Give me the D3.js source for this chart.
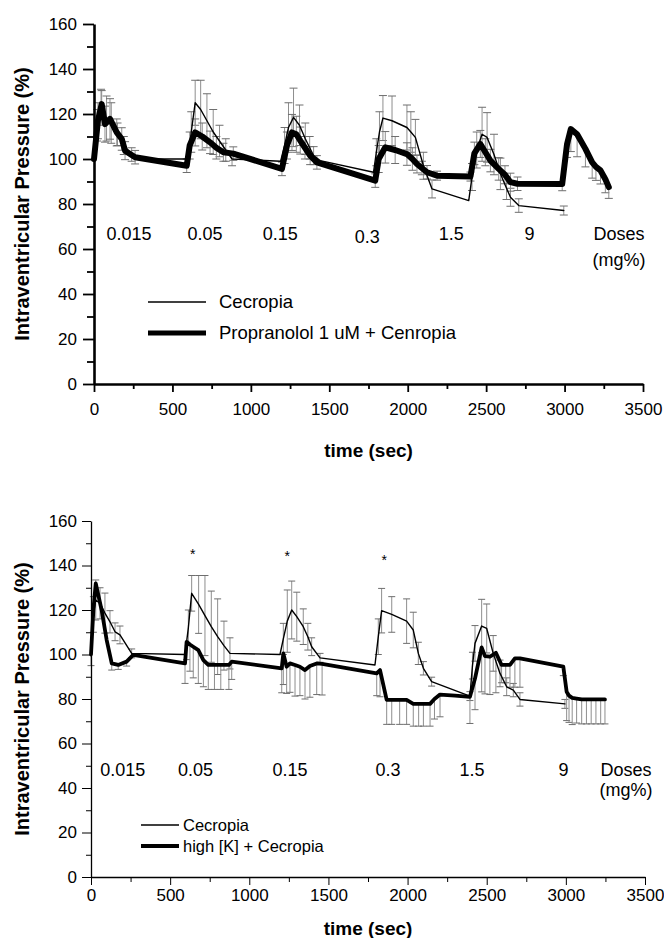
<!DOCTYPE html>
<html>
<head>
<meta charset="utf-8">
<script src="https://cdn.jsdelivr.net/npm/d3@7"></script>
<style>
  body { margin: 0; background: #fff; }
  svg { font-family: "Liberation Sans", Arial, Helvetica, sans-serif; }
</style>
</head>
<body>
<svg></svg>
<script>
// ---- data (time in sec, pressure in %) ----

// top panel: Cecropia
var topCecT = [0, 20, 45, 80, 110, 150, 190, 240, 300,
    600, 620, 645, 680, 720, 760, 800, 840, 880,
    1190, 1215, 1240, 1272, 1310, 1347, 1375, 1400, 1442,
    1782, 1800, 1820, 1842, 1900, 1995, 2020, 2049, 2100, 2155,
    2389, 2410, 2440, 2474, 2506, 2550, 2591, 2630, 2655, 2708, 2995]
var topCecV = [100, 115, 123, 118, 116, 111, 106, 102, 100,
    100, 112, 125, 122, 117, 112, 108, 104, 100,
    99, 106, 114, 118.5, 115, 109, 105, 101.5, 99.3,
    94.1, 103, 112, 118.2, 117, 114, 112, 109.6, 97, 86.7,
    81.5, 92, 104, 111, 109.6, 102, 93.4, 87, 83, 79.3, 77.1]
var topCecE = [0, 7, 8, 10, 9, 5, 4, 3, 0,
    0, 9, 10, 13, 12, 10, 7, 5, 3,
    0, 8, 11, 13, 9, 7, 5, 4, 0,
    0, 6, 9, 10, 11, 10, 9, 8, 6, 4,
    0, 6, 8, 12, 11, 9, 7, 5, 4, 3, 2]

// top panel: Propranolol 1 uM + Cecropia
var topProT = [0, 25, 49, 70, 102, 145, 177, 198, 262,
    591, 610, 645, 690, 740, 780, 825, 888,
    1198, 1230, 1262, 1290, 1315, 1345, 1378, 1421,
    1793, 1815, 1857, 1920, 1995, 2030, 2059, 2090, 2123, 2187,
    2400, 2425, 2463, 2495, 2527, 2580, 2620, 2655, 2700,
    2985, 3016, 3040, 3080, 3133, 3176, 3200, 3229, 3260, 3282]
var topProV = [100, 117, 124.4, 115.5, 117.8, 111.8, 108.9, 103.7, 100.8,
    97, 106, 111.8, 110, 107.4, 105, 103, 102.4,
    95.6, 106, 111.8, 111, 108.2, 105, 101.5, 98.5,
    90.4, 100, 105.2, 104, 102.2, 100, 97.8, 96, 94.1, 92.6,
    92.2, 102.5, 106.7, 103, 99.3, 95.6, 93, 89.7, 89,
    88.9, 106.7, 113.3, 111, 104.5, 98.5, 96.5, 94.9, 91, 87.5]
var topProUp = [0, 8, 6, 8, 9, 6, 5, 4, 3,
    3, 6, 6, 6, 5, 5, 4, 3,
    3, 6, 8, 8, 6, 5, 4, 3,
    3, 6, 7, 6, 5, 5, 4, 3, 3, 2,
    2, 5, 6, 6, 5, 5, 4, 4, 3,
    0, 0, 0, 0, 0, 0, 0, 0, 0, 0]
var topProDn = [0, 8, 6, 8, 9, 6, 5, 4, 3,
    3, 6, 6, 6, 5, 5, 4, 3,
    3, 6, 8, 8, 6, 5, 4, 3,
    3, 6, 7, 6, 5, 5, 4, 3, 3, 2,
    2, 5, 6, 6, 5, 5, 4, 4, 3,
    3, 6, 10, 10, 8, 7, 6, 6, 6, 5]

// bottom panel: Cecropia
var botCecT = [0, 15, 30, 57, 88, 120, 152, 183, 257,
    594, 615, 636, 680, 720, 760, 800, 840, 878,
    1194, 1215, 1240, 1268, 1300, 1341, 1370, 1394, 1447,
    1794, 1815, 1836, 1900, 1994, 2036, 2068, 2100, 2152,
    2394, 2410, 2426, 2468, 2500, 2541, 2584, 2626, 2668, 2710, 2994]
var botCecV = [100, 118, 124.5, 123, 118.6, 114.7, 110.2, 108.8, 100.5,
    100, 112, 127.5, 122.5, 117.5, 112.5, 108, 104, 100.5,
    100, 107, 115, 120, 117, 112.5, 108, 103.5, 98.5,
    95.3, 108, 119.7, 118, 115, 111, 100.5, 93.8, 87.8,
    81.3, 95, 105, 112.8, 111.7, 100.5, 91.5, 85.5, 84, 79.8, 77.8]
var botCecE = [0, 8, 9, 7, 9, 5, 4, 4, 2,
    0, 8, 8, 13, 18, 16, 17, 11, 7,
    0, 7, 14, 13, 11, 8, 6, 4, 2,
    0, 8, 10, 8, 10, 8, 5, 3, 2,
    2, 6, 8, 12, 11, 8, 6, 4, 3, 3, 2]

// bottom panel: high [K] + Cecropia (error bars drawn downward only)
var botHkT = [0, 15, 30, 67, 99, 131, 172, 225, 267,
    594, 604, 625, 646, 678, 710, 741, 780, 820, 871, 889,
    1205, 1215, 1236, 1257, 1289, 1320, 1352, 1383, 1426, 1460,
    1805, 1826, 1868, 1900, 1950, 1994, 2036, 2070, 2100, 2142, 2170, 2205, 2300, 2394,
    2426, 2468, 2489, 2520, 2558, 2594, 2620, 2647, 2678, 2710,
    2984, 3005, 3020, 3040, 3068, 3100, 3130, 3160, 3190, 3220, 3247]
var botHkV = [100, 120, 132, 120, 106.5, 96, 95.3, 96.8, 99.8,
    96, 105.7, 104.5, 103.5, 102, 97.5, 95.3, 95.3, 95.3, 95.3, 96.8,
    93.8, 100.5, 94.5, 96, 95.3, 94.5, 93, 94.8, 96, 95.8,
    91.5, 93, 79.6, 79.6, 79.6, 79.6, 77.8, 77.8, 77.8, 77.8, 80, 82, 81.5, 81,
    89.2, 103.2, 99.3, 99, 100.8, 95.3, 95.3, 95.3, 98.3, 98.3,
    94.5, 83.3, 81.5, 80.5, 80.2, 79.8, 79.8, 79.8, 79.8, 79.8, 79.8]
var botHkDn = [5, 0, 0, 0, 0, 3, 2, 2, 0,
    9, 8, 12, 14, 15, 12, 11, 11, 11, 11, 8,
    11, 14, 12, 13, 14, 13, 13, 14, 14, 14,
    10, 12, 11, 11, 11, 11, 10, 10, 10, 10, 9, 10, 0, 12,
    14, 20, 17, 17, 18, 8, 8, 10, 13, 13,
    4, 13, 12, 12, 11, 11, 11, 11, 11, 11, 11]

// labels
var doseLabels = ["0.015", "0.05", "0.15", "0.3", "1.5", "9"]
var topDoseAt = [223, 708, 1187, 1742, 2278, 2776]
var botDoseAt = [200, 660, 1257, 1876, 2407, 2985]
var starAt = [642, 1240, 1853]
var starV = [145.7, 144.7, 143.2]
var xTicks = [0, 500, 1000, 1500, 2000, 2500, 3000, 3500]
var xMinor = [250, 750, 1250, 1750, 2250, 2750, 3250]
var yTicks = [0, 20, 40, 60, 80, 100, 120, 140, 160]
var yMinor = [10, 30, 50, 70, 90, 110, 130, 150]

var width = 664,
    height = 938

var svg = d3.select("svg")
    .attr("width", width)
    .attr("height", height)

function drawPanel(p) {
    var x = d3.scaleLinear().domain([0, 3500]).range(p.xRange)
    var y = d3.scaleLinear().domain([0, 160]).range(p.yRange)
    var g = svg.append("g")

    // error bars first, so the lines sit on top
    p.series.forEach(function(s) {
        var bars = []
        s.t.forEach(function(t, i) {
            var up = s.up ? s.up[i] : 0,
                dn = s.dn ? s.dn[i] : 0
            if (up > 0 || dn > 0) bars.push({t: t, v: s.v[i], up: up, dn: dn})
        })
        var eb = g.append("g").selectAll("g")
            .data(bars)
            .enter().append("g")
        eb.append("line")
            .attr("x1", function(d) { return x(d.t) })
            .attr("x2", function(d) { return x(d.t) })
            .attr("y1", function(d) { return y(d.v + d.up) })
            .attr("y2", function(d) { return y(d.v - d.dn) })
            .style("stroke", "#8e8e8e")
            .style("stroke-width", 1)
        eb.filter(function(d) { return d.up > 0 }).append("line")
            .attr("x1", function(d) { return x(d.t) - p.cap })
            .attr("x2", function(d) { return x(d.t) + p.cap })
            .attr("y1", function(d) { return y(d.v + d.up) })
            .attr("y2", function(d) { return y(d.v + d.up) })
            .style("stroke", "#6e6e6e")
            .style("stroke-width", 1)
        eb.filter(function(d) { return d.dn > 0 }).append("line")
            .attr("x1", function(d) { return x(d.t) - p.cap })
            .attr("x2", function(d) { return x(d.t) + p.cap })
            .attr("y1", function(d) { return y(d.v - d.dn) })
            .attr("y2", function(d) { return y(d.v - d.dn) })
            .style("stroke", "#6e6e6e")
            .style("stroke-width", 1)
    })

    // the two curves
    p.series.forEach(function(s) {
        var line = d3.line()
            .x(function(i) { return x(s.t[i]) })
            .y(function(i) { return y(s.v[i]) })
        g.append("path")
            .attr("d", line(d3.range(s.t.length)))
            .style("fill", "none")
            .style("stroke", "#000")
            .style("stroke-width", s.w)
            .style("stroke-linejoin", "round")
            .style("stroke-linecap", "round")
    })

    // axes
    var yAxis = g.append("g")
        .attr("transform", "translate(" + x(0) + ",0)")
        .call(d3.axisLeft(y).tickValues(yTicks).tickSize(p.yMajor)
            .tickSizeOuter(0).tickPadding(p.yPad).tickFormat(d3.format("d")))
    var yMin = g.append("g")
        .attr("transform", "translate(" + x(0) + ",0)")
        .call(d3.axisLeft(y).tickValues(yMinor).tickSize(p.yMinorLen)
            .tickSizeOuter(0).tickFormat(""))
    var xAxis = g.append("g")
        .attr("transform", "translate(0," + y(0) + ")")
        .call(d3.axisBottom(x).tickValues(xTicks).tickSize(p.xMajor)
            .tickSizeOuter(0).tickPadding(p.xPad).tickFormat(d3.format("d")))
    var xMin = g.append("g")
        .attr("transform", "translate(0," + y(0) + ")")
        .call(d3.axisBottom(x).tickValues(xMinor).tickSize(p.xMinorLen)
            .tickSizeOuter(0).tickFormat(""))

    ;[yMin, xMin].forEach(function(a) { a.select(".domain").remove() })
    ;[yAxis, xAxis].forEach(function(a) {
        a.select(".domain").style("stroke-width", p.axisW)
    })
    ;[yAxis, yMin, xAxis, xMin].forEach(function(a) {
        a.attr("font-family", null).attr("font-size", null)
        a.selectAll(".tick line").style("stroke-width", p.tickW)
        a.selectAll("text").style("font-size", "17px").style("fill", "#000")
    })

    // axis titles
    g.append("text")
        .attr("transform", "translate(" + p.yTitleX + "," + ((p.yRange[0] + p.yRange[1]) / 2) + ") rotate(-90)")
        .attr("text-anchor", "middle")
        .attr("dy", "0.35em")
        .style("font-weight", "bold")
        .style("font-size", "20px")
        .text("Intraventricular Pressure (%)")
    g.append("text")
        .attr("x", (p.xRange[0] + p.xRange[1]) / 2)
        .attr("y", p.xTitleY)
        .attr("text-anchor", "middle")
        .style("font-weight", "bold")
        .style("font-size", "19px")
        .text("time (sec)")

    // dose labels
    g.selectAll(".dose")
        .data(doseLabels)
        .enter().append("text")
        .attr("x", function(d, i) { return x(p.doseAt[i]) })
        .attr("y", function(d, i) { return p.doseY + (p.doseDy ? p.doseDy[i] : 0) })
        .attr("text-anchor", "middle")
        .style("font-size", "18px")
        .text(function(d) { return d })
    g.append("text")
        .attr("x", p.dosesX)
        .attr("y", p.doseY)
        .attr("text-anchor", "middle")
        .style("font-size", "18px")
        .text("Doses")
    g.append("text")
        .attr("x", p.dosesX)
        .attr("y", p.mgY)
        .attr("text-anchor", "middle")
        .style("font-size", "18px")
        .text("(mg%)")

    // legend
    var lg = g.append("g")
    p.series.forEach(function(s, i) {
        lg.append("line")
            .attr("x1", p.legX[0]).attr("x2", p.legX[1])
            .attr("y1", p.legY[i]).attr("y2", p.legY[i])
            .style("stroke", "#000")
            .style("stroke-width", s.legW)
        lg.append("text")
            .attr("x", p.legTextX)
            .attr("y", p.legY[i])
            .attr("dy", "0.35em")
            .style("font-size", p.legFont)
            .text(s.name)
    })

    if (p.stars) {
        g.selectAll(".star")
            .data(starAt)
            .enter().append("text")
            .attr("x", function(d) { return x(d) })
            .attr("y", function(d, i) { return y(starV[i]) })
            .attr("dy", "0.45em")
            .attr("text-anchor", "middle")
            .style("font-size", "14px")
            .style("fill", "#000")
            .text("*")
    }
}

drawPanel({
    xRange: [94, 643], yRange: [384, 24],
    axisW: 2.6, tickW: 1.8, yMajor: 11, yMinorLen: 7, xMajor: 8, xMinorLen: 5,
    yPad: 6, xPad: 11, cap: 4,
    yTitleX: 22, xTitleY: 457,
    doseAt: topDoseAt, doseY: 240, doseDy: [0, 0, 0, 3, 0, 0], dosesX: 619, mgY: 266,
    legX: [148, 206], legTextX: 219, legY: [302, 333], legFont: "18.5px",
    series: [
        {name: "Cecropia", t: topCecT, v: topCecV, up: topCecE, dn: topCecE, w: 1.4, legW: 1.4},
        {name: "Propranolol 1 uM + Cenropia", t: topProT, v: topProV, up: topProUp, dn: topProDn, w: 6, legW: 5}
    ]
})

drawPanel({
    xRange: [91, 645], yRange: [877, 521],
    axisW: 1.3, tickW: 1, yMajor: 9, yMinorLen: 5, xMajor: 8, xMinorLen: 5,
    yPad: 5, xPad: 4, cap: 3.5,
    yTitleX: 22, xTitleY: 935,
    doseAt: botDoseAt, doseY: 776, dosesX: 626, mgY: 796,
    legX: [141, 179], legTextX: 183, legY: [825, 846], legFont: "16.5px",
    stars: true,
    series: [
        {name: "Cecropia", t: botCecT, v: botCecV, up: botCecE, dn: botCecE, w: 1.4, legW: 1.3},
        {name: "high [K] + Cecropia", t: botHkT, v: botHkV, up: null, dn: botHkDn, w: 3.8, legW: 4}
    ]
})
</script>
</body>
</html>
